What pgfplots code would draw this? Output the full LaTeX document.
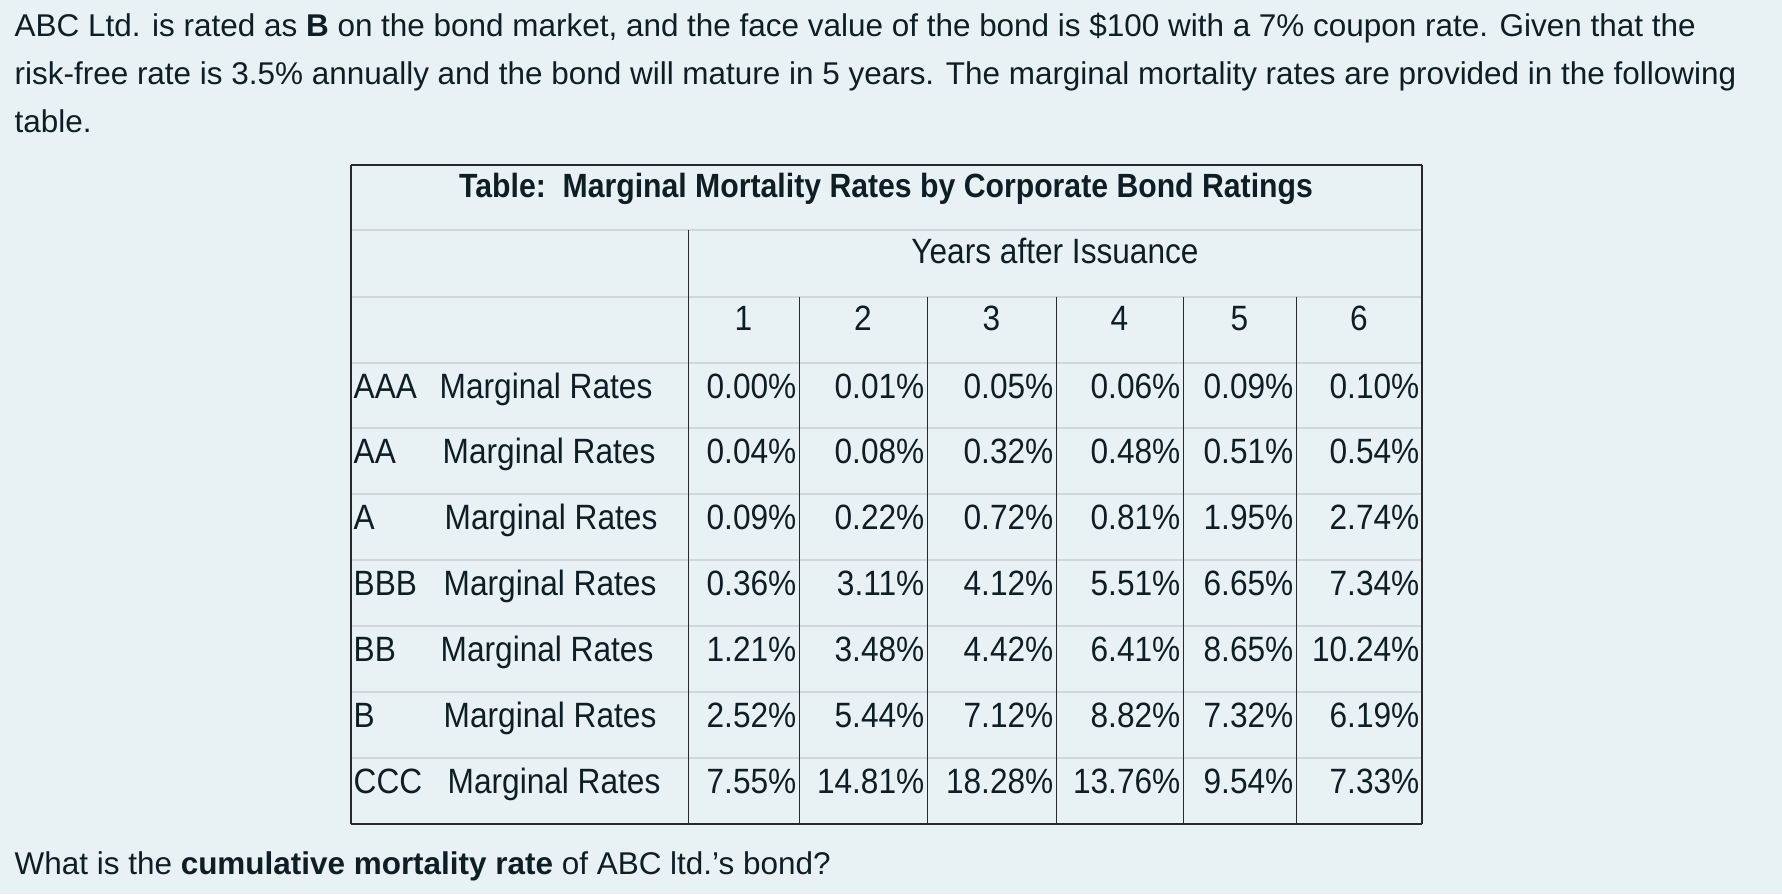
\documentclass[border=0pt]{standalone}
\usepackage{fontspec}
\setmainfont{Liberation Sans}
\newfontfamily\tabfont[FakeStretch=0.9]{Liberation Sans}
\usepackage{pgfplots}
\pgfplotsset{compat=1.18}
\usepackage{pgfplotstable}
\definecolor{bg}{HTML}{E8F1F4}
\definecolor{ink}{HTML}{0E1E24}
\definecolor{rulegray}{HTML}{D2D6D8}
\definecolor{frame}{HTML}{262A2C}

% marginal mortality rates (%) by rating, years 1-6
\pgfplotstableread{
rating y1 y2 y3 y4 y5 y6
AAA 0.00 0.01 0.05 0.06 0.09 0.10
AA 0.04 0.08 0.32 0.48 0.51 0.54
A 0.09 0.22 0.72 0.81 1.95 2.74
BBB 0.36 3.11 4.12 5.51 6.65 7.34
BB 1.21 3.48 4.42 6.41 8.65 10.24
B 2.52 5.44 7.12 8.82 7.32 6.19
CCC 7.55 14.81 18.28 13.76 9.54 7.33
}\rates

\pgfplotsset{
  cell/.style={only marks, mark=none, point meta=explicit,
    nodes near coords={\pgfmathprintnumber[fixed,fixed zerofill,precision=2,assume math mode=true]{\pgfplotspointmeta}\%},
    every node near coord/.append style={anchor=base east, inner sep=0pt, text=ink,
      font=\tabfont\fontsize{10}{12}\selectfont}},
}
\tikzset{
  lbl/.style={anchor=base west,inner sep=0pt,text=ink,font=\tabfont\fontsize{10}{12}\selectfont},
  hdr/.style={anchor=base,inner sep=0pt,text=ink,font=\tabfont\fontsize{10}{12}\selectfont},
  txt/.style={anchor=base west,inner sep=0pt,text=ink,font=\fontsize{8.95}{11}\selectfont},
}

\begin{document}
\begin{tikzpicture}
\begin{axis}[width=178.2mm,height=89.4mm,scale only axis,
  xmin=0,xmax=1782,ymin=0,ymax=894,y dir=reverse,hide axis,clip=false]
\fill[bg] (0,0) rectangle (1782,894);

% question text
\node[txt] at (14,36) {ABC Ltd. is rated as \textbf{B} on the bond market, and the face value of the bond is \$100 with a 7\% coupon rate. Given that the};
\node[txt] at (14,84) {risk-free rate is 3.5\% annually and the bond will mature in 5 years. The marginal mortality rates are provided in the following};
\node[txt] at (14,132) {table.};
\node[txt] at (14,874) {What is the \textbf{cumulative mortality rate} of ABC ltd.’s bond?};

% table rules
\pgfplotsinvokeforeach{229.6,296.6,362.5,428.4,494.3,560.2,626.1,692.0,757.9}{
  \draw[rulegray,line width=0.2mm] (351,#1) -- (1422,#1);
}
\draw[frame,line width=0.1mm] (688,229.6) -- (688,824);
\pgfplotsinvokeforeach{799,927,1056,1183,1296}{
  \draw[frame,line width=0.1mm] (#1,296.6) -- (#1,824);
}
\draw[frame,line width=0.15mm] (351,165) -- (351,824);
\draw[frame,line width=0.15mm] (1422,165) -- (1422,824);
\draw[frame,line width=0.2mm] (351,165) -- (1422,165);
\draw[frame,line width=0.2mm] (351,824) -- (1422,824);

% headers
\node[hdr,font=\tabfont\bfseries\fontsize{9.55}{11}\selectfont] at (886,197) {Table:\ \ Marginal Mortality Rates by Corporate Bond Ratings};
\node[hdr] at (1055,263) {Years after Issuance};
\node[hdr] at (743.5,330) {1};
\node[hdr] at (863,330) {2};
\node[hdr] at (991.5,330) {3};
\node[hdr] at (1119.5,330) {4};
\node[hdr] at (1239.5,330) {5};
\node[hdr] at (1359,330) {6};

% row labels
\node[lbl] at (353,398) {AAA};  \node[lbl] at (439,398) {Marginal Rates};
\node[lbl] at (353,463.9) {AA}; \node[lbl] at (442,463.9) {Marginal Rates};
\node[lbl] at (353,529.8) {A};  \node[lbl] at (444,529.8) {Marginal Rates};
\node[lbl] at (353,595.7) {BBB};\node[lbl] at (443,595.7) {Marginal Rates};
\node[lbl] at (353,661.6) {BB}; \node[lbl] at (440,661.6) {Marginal Rates};
\node[lbl] at (353,727.5) {B};  \node[lbl] at (443,727.5) {Marginal Rates};
\node[lbl] at (353,793.4) {CCC};\node[lbl] at (447,793.4) {Marginal Rates};

% cell values
\addplot[cell] table[x expr=797, y expr=398+65.9*\coordindex, meta=y1] {\rates};
\addplot[cell] table[x expr=925, y expr=398+65.9*\coordindex, meta=y2] {\rates};
\addplot[cell] table[x expr=1054, y expr=398+65.9*\coordindex, meta=y3] {\rates};
\addplot[cell] table[x expr=1181, y expr=398+65.9*\coordindex, meta=y4] {\rates};
\addplot[cell] table[x expr=1294, y expr=398+65.9*\coordindex, meta=y5] {\rates};
\addplot[cell] table[x expr=1420, y expr=398+65.9*\coordindex, meta=y6] {\rates};
\end{axis}
\end{tikzpicture}
\end{document}
